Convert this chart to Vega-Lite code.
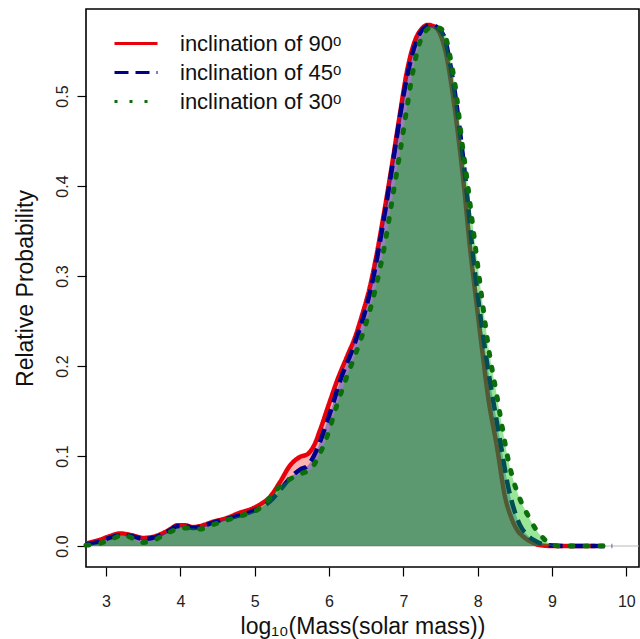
{
  "$schema": "https://vega.github.io/schema/vega-lite/v6.json",
  "width": 553,
  "height": 558,
  "autosize": {"type": "none"},
  "padding": {"left": 86, "top": 9, "right": 1, "bottom": 72},
  "background": "white",
  "config": {
    "font": "Liberation Sans",
    "view": {"stroke": "#000000", "strokeWidth": 1.6},
    "axis": {
      "grid": false,
      "domain": false,
      "tickColor": "#000000",
      "tickSize": 9,
      "tickWidth": 1.2,
      "labelFont": "Liberation Sans",
      "labelFontSize": 16,
      "labelColor": "#222222",
      "titleFont": "Liberation Sans",
      "titleFontSize": 23,
      "titleFontWeight": "normal",
      "titleColor": "#111111"
    }
  },
  "data": {
    "values": [
      {"inclination": "90", "logMass": 2.73, "prob": 0.003},
      {"inclination": "90", "logMass": 2.92, "prob": 0.007},
      {"inclination": "90", "logMass": 3.05, "prob": 0.011},
      {"inclination": "90", "logMass": 3.19, "prob": 0.014},
      {"inclination": "90", "logMass": 3.35, "prob": 0.012},
      {"inclination": "90", "logMass": 3.50, "prob": 0.009},
      {"inclination": "90", "logMass": 3.62, "prob": 0.010},
      {"inclination": "90", "logMass": 3.73, "prob": 0.013},
      {"inclination": "90", "logMass": 3.85, "prob": 0.018},
      {"inclination": "90", "logMass": 3.96, "prob": 0.023},
      {"inclination": "90", "logMass": 4.07, "prob": 0.023},
      {"inclination": "90", "logMass": 4.17, "prob": 0.021},
      {"inclination": "90", "logMass": 4.30, "prob": 0.023},
      {"inclination": "90", "logMass": 4.44, "prob": 0.027},
      {"inclination": "90", "logMass": 4.62, "prob": 0.031},
      {"inclination": "90", "logMass": 4.80, "prob": 0.037},
      {"inclination": "90", "logMass": 4.95, "prob": 0.041},
      {"inclination": "90", "logMass": 5.07, "prob": 0.046},
      {"inclination": "90", "logMass": 5.21, "prob": 0.055},
      {"inclination": "90", "logMass": 5.34, "prob": 0.071},
      {"inclination": "90", "logMass": 5.48, "prob": 0.090},
      {"inclination": "90", "logMass": 5.61, "prob": 0.099},
      {"inclination": "90", "logMass": 5.71, "prob": 0.102},
      {"inclination": "90", "logMass": 5.80, "prob": 0.112},
      {"inclination": "90", "logMass": 5.88, "prob": 0.129},
      {"inclination": "90", "logMass": 6.00, "prob": 0.158},
      {"inclination": "90", "logMass": 6.11, "prob": 0.184},
      {"inclination": "90", "logMass": 6.25, "prob": 0.212},
      {"inclination": "90", "logMass": 6.35, "prob": 0.232},
      {"inclination": "90", "logMass": 6.45, "prob": 0.258},
      {"inclination": "90", "logMass": 6.55, "prob": 0.288},
      {"inclination": "90", "logMass": 6.65, "prob": 0.328},
      {"inclination": "90", "logMass": 6.75, "prob": 0.375},
      {"inclination": "90", "logMass": 6.85, "prob": 0.425},
      {"inclination": "90", "logMass": 6.95, "prob": 0.478},
      {"inclination": "90", "logMass": 7.05, "prob": 0.528},
      {"inclination": "90", "logMass": 7.15, "prob": 0.560},
      {"inclination": "90", "logMass": 7.25, "prob": 0.575},
      {"inclination": "90", "logMass": 7.33, "prob": 0.579},
      {"inclination": "90", "logMass": 7.42, "prob": 0.577},
      {"inclination": "90", "logMass": 7.50, "prob": 0.568},
      {"inclination": "90", "logMass": 7.58, "prob": 0.545},
      {"inclination": "90", "logMass": 7.66, "prob": 0.505},
      {"inclination": "90", "logMass": 7.75, "prob": 0.448},
      {"inclination": "90", "logMass": 7.82, "prob": 0.396},
      {"inclination": "90", "logMass": 7.90, "prob": 0.329},
      {"inclination": "90", "logMass": 7.98, "prob": 0.273},
      {"inclination": "90", "logMass": 8.06, "prob": 0.218},
      {"inclination": "90", "logMass": 8.14, "prob": 0.166},
      {"inclination": "90", "logMass": 8.26, "prob": 0.110},
      {"inclination": "90", "logMass": 8.37, "prob": 0.054},
      {"inclination": "90", "logMass": 8.45, "prob": 0.032},
      {"inclination": "90", "logMass": 8.53, "prob": 0.018},
      {"inclination": "90", "logMass": 8.62, "prob": 0.010},
      {"inclination": "90", "logMass": 8.71, "prob": 0.005},
      {"inclination": "90", "logMass": 8.84, "prob": 0.001},
      {"inclination": "90", "logMass": 9.00, "prob": 0.0},
      {"inclination": "90", "logMass": 9.58, "prob": 0.0},

      {"inclination": "45", "logMass": 2.73, "prob": 0.002},
      {"inclination": "45", "logMass": 2.92, "prob": 0.005},
      {"inclination": "45", "logMass": 3.05, "prob": 0.009},
      {"inclination": "45", "logMass": 3.19, "prob": 0.012},
      {"inclination": "45", "logMass": 3.35, "prob": 0.011},
      {"inclination": "45", "logMass": 3.50, "prob": 0.008},
      {"inclination": "45", "logMass": 3.62, "prob": 0.009},
      {"inclination": "45", "logMass": 3.73, "prob": 0.012},
      {"inclination": "45", "logMass": 3.85, "prob": 0.017},
      {"inclination": "45", "logMass": 3.96, "prob": 0.022},
      {"inclination": "45", "logMass": 4.07, "prob": 0.022},
      {"inclination": "45", "logMass": 4.17, "prob": 0.020},
      {"inclination": "45", "logMass": 4.30, "prob": 0.022},
      {"inclination": "45", "logMass": 4.44, "prob": 0.026},
      {"inclination": "45", "logMass": 4.62, "prob": 0.030},
      {"inclination": "45", "logMass": 4.80, "prob": 0.034},
      {"inclination": "45", "logMass": 4.95, "prob": 0.038},
      {"inclination": "45", "logMass": 5.07, "prob": 0.042},
      {"inclination": "45", "logMass": 5.21, "prob": 0.050},
      {"inclination": "45", "logMass": 5.34, "prob": 0.062},
      {"inclination": "45", "logMass": 5.48, "prob": 0.076},
      {"inclination": "45", "logMass": 5.61, "prob": 0.085},
      {"inclination": "45", "logMass": 5.71, "prob": 0.089},
      {"inclination": "45", "logMass": 5.83, "prob": 0.106},
      {"inclination": "45", "logMass": 5.97, "prob": 0.137},
      {"inclination": "45", "logMass": 6.06, "prob": 0.160},
      {"inclination": "45", "logMass": 6.15, "prob": 0.184},
      {"inclination": "45", "logMass": 6.30, "prob": 0.215},
      {"inclination": "45", "logMass": 6.40, "prob": 0.238},
      {"inclination": "45", "logMass": 6.50, "prob": 0.265},
      {"inclination": "45", "logMass": 6.60, "prob": 0.300},
      {"inclination": "45", "logMass": 6.70, "prob": 0.345},
      {"inclination": "45", "logMass": 6.80, "prob": 0.395},
      {"inclination": "45", "logMass": 6.90, "prob": 0.448},
      {"inclination": "45", "logMass": 7.00, "prob": 0.500},
      {"inclination": "45", "logMass": 7.10, "prob": 0.540},
      {"inclination": "45", "logMass": 7.20, "prob": 0.566},
      {"inclination": "45", "logMass": 7.30, "prob": 0.577},
      {"inclination": "45", "logMass": 7.37, "prob": 0.579},
      {"inclination": "45", "logMass": 7.46, "prob": 0.576},
      {"inclination": "45", "logMass": 7.55, "prob": 0.566},
      {"inclination": "45", "logMass": 7.62, "prob": 0.540},
      {"inclination": "45", "logMass": 7.70, "prob": 0.500},
      {"inclination": "45", "logMass": 7.78, "prob": 0.448},
      {"inclination": "45", "logMass": 7.85, "prob": 0.396},
      {"inclination": "45", "logMass": 7.93, "prob": 0.329},
      {"inclination": "45", "logMass": 8.01, "prob": 0.273},
      {"inclination": "45", "logMass": 8.10, "prob": 0.218},
      {"inclination": "45", "logMass": 8.20, "prob": 0.166},
      {"inclination": "45", "logMass": 8.30, "prob": 0.118},
      {"inclination": "45", "logMass": 8.42, "prob": 0.062},
      {"inclination": "45", "logMass": 8.50, "prob": 0.038},
      {"inclination": "45", "logMass": 8.57, "prob": 0.023},
      {"inclination": "45", "logMass": 8.67, "prob": 0.012},
      {"inclination": "45", "logMass": 8.77, "prob": 0.006},
      {"inclination": "45", "logMass": 8.95, "prob": 0.001},
      {"inclination": "45", "logMass": 9.20, "prob": 0.0},
      {"inclination": "45", "logMass": 9.81, "prob": 0.0},

      {"inclination": "30", "logMass": 2.73, "prob": 0.001},
      {"inclination": "30", "logMass": 2.92, "prob": 0.003},
      {"inclination": "30", "logMass": 3.08, "prob": 0.008},
      {"inclination": "30", "logMass": 3.23, "prob": 0.012},
      {"inclination": "30", "logMass": 3.35, "prob": 0.009},
      {"inclination": "30", "logMass": 3.46, "prob": 0.004},
      {"inclination": "30", "logMass": 3.60, "prob": 0.005},
      {"inclination": "30", "logMass": 3.73, "prob": 0.010},
      {"inclination": "30", "logMass": 3.87, "prob": 0.016},
      {"inclination": "30", "logMass": 4.00, "prob": 0.020},
      {"inclination": "30", "logMass": 4.13, "prob": 0.020},
      {"inclination": "30", "logMass": 4.27, "prob": 0.019},
      {"inclination": "30", "logMass": 4.45, "prob": 0.024},
      {"inclination": "30", "logMass": 4.63, "prob": 0.029},
      {"inclination": "30", "logMass": 4.83, "prob": 0.034},
      {"inclination": "30", "logMass": 5.03, "prob": 0.040},
      {"inclination": "30", "logMass": 5.15, "prob": 0.048},
      {"inclination": "30", "logMass": 5.25, "prob": 0.058},
      {"inclination": "30", "logMass": 5.35, "prob": 0.067},
      {"inclination": "30", "logMass": 5.45, "prob": 0.073},
      {"inclination": "30", "logMass": 5.61, "prob": 0.080},
      {"inclination": "30", "logMass": 5.75, "prob": 0.085},
      {"inclination": "30", "logMass": 5.86, "prob": 0.100},
      {"inclination": "30", "logMass": 5.97, "prob": 0.121},
      {"inclination": "30", "logMass": 6.10, "prob": 0.155},
      {"inclination": "30", "logMass": 6.22, "prob": 0.184},
      {"inclination": "30", "logMass": 6.35, "prob": 0.212},
      {"inclination": "30", "logMass": 6.45, "prob": 0.235},
      {"inclination": "30", "logMass": 6.55, "prob": 0.262},
      {"inclination": "30", "logMass": 6.65, "prob": 0.295},
      {"inclination": "30", "logMass": 6.75, "prob": 0.335},
      {"inclination": "30", "logMass": 6.85, "prob": 0.385},
      {"inclination": "30", "logMass": 6.95, "prob": 0.435},
      {"inclination": "30", "logMass": 7.05, "prob": 0.488},
      {"inclination": "30", "logMass": 7.13, "prob": 0.528},
      {"inclination": "30", "logMass": 7.23, "prob": 0.562},
      {"inclination": "30", "logMass": 7.32, "prob": 0.574},
      {"inclination": "30", "logMass": 7.40, "prob": 0.577},
      {"inclination": "30", "logMass": 7.50, "prob": 0.575},
      {"inclination": "30", "logMass": 7.56, "prob": 0.568},
      {"inclination": "30", "logMass": 7.63, "prob": 0.543},
      {"inclination": "30", "logMass": 7.70, "prob": 0.510},
      {"inclination": "30", "logMass": 7.79, "prob": 0.448},
      {"inclination": "30", "logMass": 7.86, "prob": 0.405},
      {"inclination": "30", "logMass": 7.92, "prob": 0.365},
      {"inclination": "30", "logMass": 7.98, "prob": 0.325},
      {"inclination": "30", "logMass": 8.06, "prob": 0.273},
      {"inclination": "30", "logMass": 8.15, "prob": 0.218},
      {"inclination": "30", "logMass": 8.26, "prob": 0.166},
      {"inclination": "30", "logMass": 8.33, "prob": 0.132},
      {"inclination": "30", "logMass": 8.40, "prob": 0.100},
      {"inclination": "30", "logMass": 8.48, "prob": 0.073},
      {"inclination": "30", "logMass": 8.57, "prob": 0.052},
      {"inclination": "30", "logMass": 8.67, "prob": 0.035},
      {"inclination": "30", "logMass": 8.78, "prob": 0.019},
      {"inclination": "30", "logMass": 8.88, "prob": 0.009},
      {"inclination": "30", "logMass": 8.98, "prob": 0.002},
      {"inclination": "30", "logMass": 9.10, "prob": 0.0},
      {"inclination": "30", "logMass": 9.81, "prob": 0.0}
    ]
  },
  "layer": [
    {
      "data": {"values": [{}]},
      "mark": {"type": "rule", "color": "#b8b8b8", "strokeWidth": 1},
      "encoding": {"y": {"datum": 0, "type": "quantitative"}}
    },
    {
      "transform": [{"filter": "datum.inclination == '90'"}],
      "mark": {"type": "area", "interpolate": "monotone", "color": "#FF0000", "fillOpacity": 0.3},
      "encoding": {
        "x": {"field": "logMass", "type": "quantitative", "scale": {"domain": [2.731, 10.17], "nice": false, "zero": false},
          "axis": {"values": [3, 4, 5, 6, 7, 8, 9, 10], "format": "d", "labelPadding": 17, "title": "log₁₀(Mass(solar mass))", "titlePadding": 6}},
        "y": {"field": "prob", "type": "quantitative", "scale": {"domain": [-0.0233, 0.5967], "nice": false, "zero": false},
          "axis": {"values": [0, 0.1, 0.2, 0.3, 0.4, 0.5], "format": ".1f", "labelAngle": -90, "labelAlign": "center", "labelBaseline": "bottom", "labelPadding": 7, "title": "Relative Probability", "titlePadding": 17}},
        "y2": {"datum": 0}
      }
    },
    {
      "transform": [{"filter": "datum.inclination == '90'"}],
      "mark": {"type": "line", "interpolate": "monotone", "strokeWidth": 4.5},
      "encoding": {
        "x": {"field": "logMass", "type": "quantitative"},
        "y": {"field": "prob", "type": "quantitative"},
        "color": {"field": "inclination", "type": "nominal", "scale": {"domain": ["90", "45", "30"], "range": ["#E8000B", "#00008B", "#0B6E0B"]},
          "legend": {"title": null, "orient": "none", "legendX": 27, "legendY": 20, "symbolType": "stroke", "symbolSize": 1849, "symbolStrokeWidth": 3, "labelFontSize": 22, "labelOffset": 21, "labelLimit": 400, "clipHeight": 29, "rowPadding": 0, "padding": 0, "labelColor": "#111111", "labelFont": "Liberation Sans", "labelExpr": "'inclination of ' + datum.label + 'ᵒ'"}},
        "strokeDash": {"field": "inclination", "type": "nominal", "scale": {"domain": ["90", "45", "30"], "range": [[1, 0], [14, 7], [3, 12]]},
          "legend": {"title": null, "orient": "none", "legendX": 27, "legendY": 20, "symbolType": "stroke", "symbolSize": 1849, "symbolStrokeWidth": 3, "labelFontSize": 22, "labelOffset": 21, "labelLimit": 400, "clipHeight": 29, "rowPadding": 0, "padding": 0, "labelColor": "#111111", "labelFont": "Liberation Sans", "labelExpr": "'inclination of ' + datum.label + 'ᵒ'"}}
      }
    },
    {
      "transform": [{"filter": "datum.inclination == '45'"}],
      "mark": {"type": "area", "interpolate": "monotone", "color": "#0032C8", "fillOpacity": 0.4},
      "encoding": {
        "x": {"field": "logMass", "type": "quantitative"},
        "y": {"field": "prob", "type": "quantitative"},
        "y2": {"datum": 0}
      }
    },
    {
      "transform": [{"filter": "datum.inclination == '45'"}],
      "mark": {"type": "line", "interpolate": "monotone", "strokeWidth": 4.5},
      "encoding": {
        "x": {"field": "logMass", "type": "quantitative"},
        "y": {"field": "prob", "type": "quantitative"},
        "color": {"field": "inclination", "type": "nominal"},
        "strokeDash": {"field": "inclination", "type": "nominal"}
      }
    },
    {
      "transform": [{"filter": "datum.inclination == '30'"}],
      "mark": {"type": "area", "interpolate": "monotone", "color": "#00C000", "fillOpacity": 0.4},
      "encoding": {
        "x": {"field": "logMass", "type": "quantitative"},
        "y": {"field": "prob", "type": "quantitative"},
        "y2": {"datum": 0}
      }
    },
    {
      "transform": [{"filter": "datum.inclination == '30'"}],
      "mark": {"type": "line", "interpolate": "monotone", "strokeWidth": 5, "strokeCap": "round"},
      "encoding": {
        "x": {"field": "logMass", "type": "quantitative"},
        "y": {"field": "prob", "type": "quantitative"},
        "color": {"field": "inclination", "type": "nominal"},
        "strokeDash": {"field": "inclination", "type": "nominal"}
      }
    }
  ]
}
